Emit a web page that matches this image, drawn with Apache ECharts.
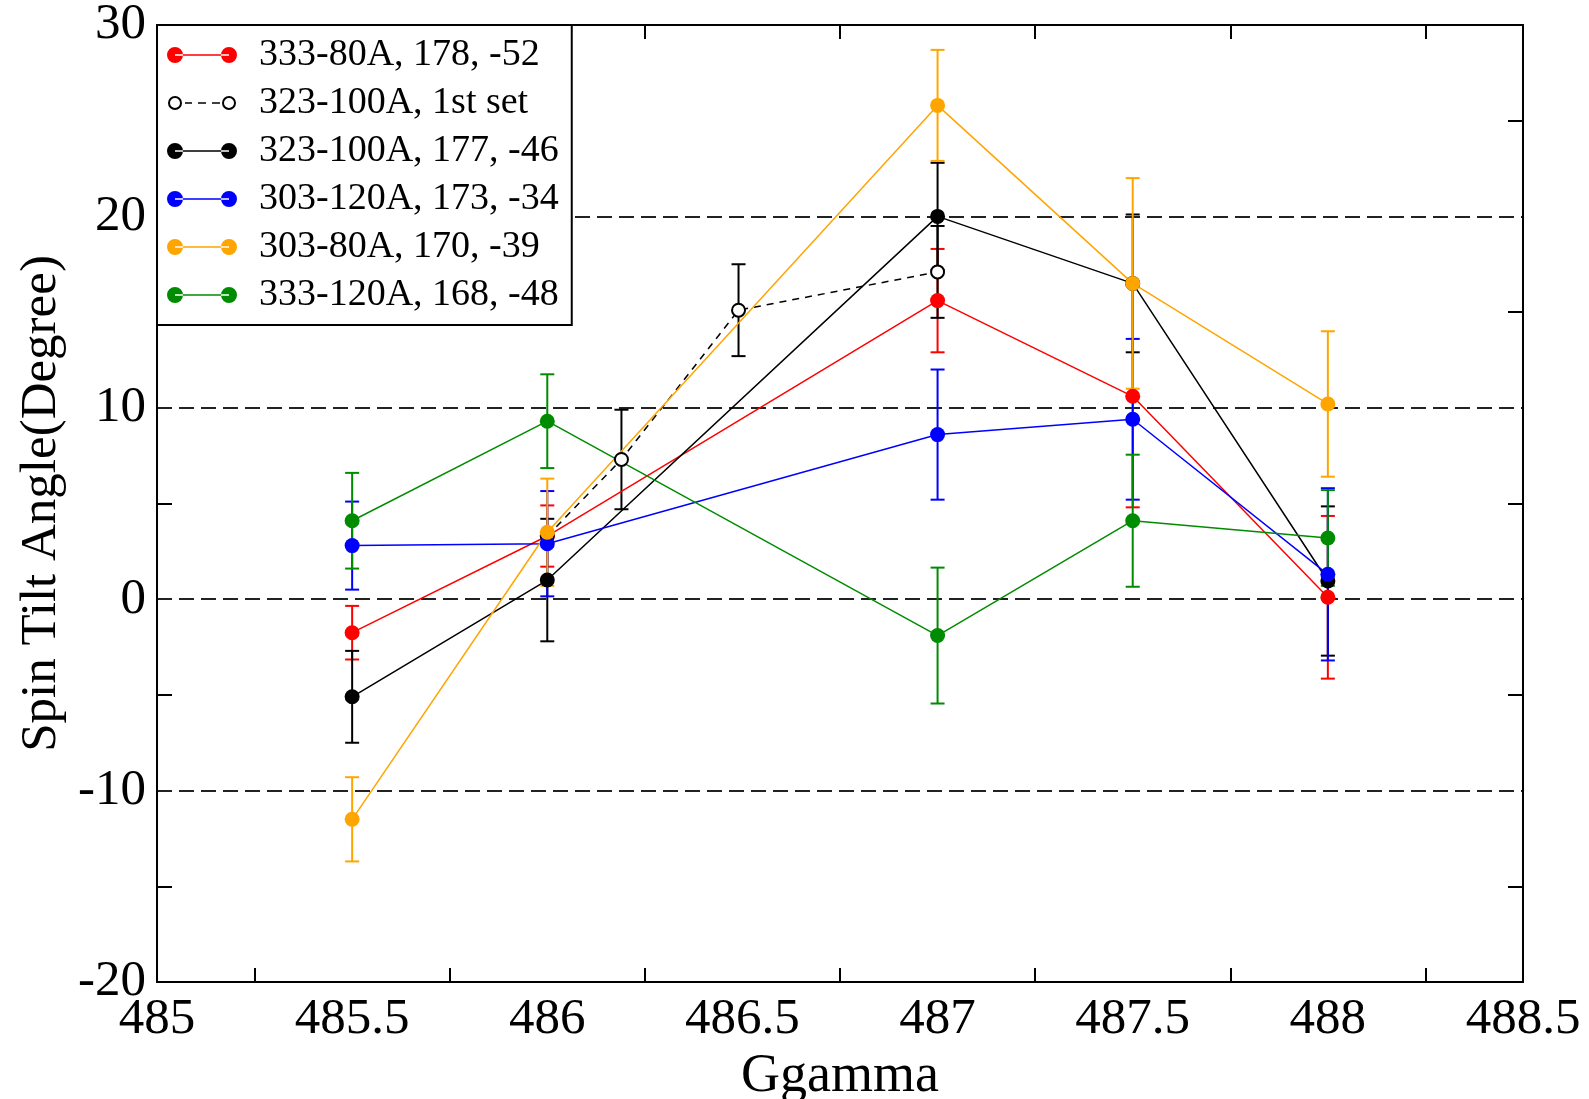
<!DOCTYPE html>
<html><head><meta charset="utf-8">
<script src="https://cdn.jsdelivr.net/npm/echarts@6/dist/echarts.min.js"></script>
<style>html,body{margin:0;padding:0;background:#fff;overflow:hidden}#c{width:1589px;height:1099px}</style>
</head><body><div id="c"></div>
<script>
// ---- axis ticks ----
const xTickLabels = [485, 485.5, 486, 486.5, 487, 487.5, 488, 488.5];
const xMinorTicks = [485.25, 485.75, 486.25, 486.75, 487.25, 487.75, 488.25];
const yTickLabels = [-20, -10, 0, 10, 20, 30];
const yMinorTicks = [-15, -5, 5, 15, 25];
const xTitle = 'Ggamma';
const yTitle = 'Spin Tilt Angle(Degree)';

// ---- series ----
const seriesNames = ['333-80A, 178, -52', '323-100A, 1st set', '323-100A, 177, -46', '303-120A, 173, -34', '303-80A, 170, -39', '333-120A, 168, -48'];

const redX = [485.5, 486, 487, 487.5, 488];
const redY = [-1.75, 3.3, 15.6, 10.6, 0.1];
const redErr = [1.4, 1.6, 2.7, 5.8, 4.25];

const openX = [486, 486.19, 486.49, 487];
const openY = [3.3, 7.3, 15.1, 17.1];
const openErr = [0, 2.6, 2.4, 2.4];

const blackX = [485.5, 486, 487, 487.5, 488];
const blackY = [-5.1, 1.0, 20.0, 16.5, 0.95];
const blackErr = [2.4, 3.2, 2.8, 3.6, 3.9];

const blueX = [485.5, 486, 487, 487.5, 488];
const blueY = [2.8, 2.9, 8.6, 9.4, 1.3];
const blueErr = [2.3, 2.75, 3.4, 4.2, 4.5];

const orangeX = [485.5, 486, 487, 487.5, 488];
const orangeY = [-11.5, 3.5, 25.8, 16.5, 10.2];
const orangeErr = [2.2, 2.8, 2.9, 5.5, 3.8];

const greenX = [485.5, 486, 487, 487.5, 488];
const greenY = [4.1, 9.3, -1.9, 4.1, 3.2];
const greenErr = [2.5, 2.45, 3.55, 3.45, 2.5];

const sets = [
  {name: seriesNames[0], x: redX, y: redY, e: redErr, color: '#ff0000', open: false},
  {name: seriesNames[1], x: openX, y: openY, e: openErr, color: '#000000', open: true},
  {name: seriesNames[2], x: blackX, y: blackY, e: blackErr, color: '#000000', open: false},
  {name: seriesNames[3], x: blueX, y: blueY, e: blueErr, color: '#0000ff', open: false},
  {name: seriesNames[4], x: orangeX, y: orangeY, e: orangeErr, color: '#ffa500', open: false},
  {name: seriesNames[5], x: greenX, y: greenY, e: greenErr, color: '#008c00', open: false}
];

const FONT = 'Liberation Serif';

function errRender(color) {
  return function (params, api) {
    const x = api.value(0), y = api.value(1), e = api.value(2);
    if (!e) return null;
    const top = api.coord([x, y + e]);
    const bot = api.coord([x, y - e]);
    const hw = 7;
    const st = {stroke: color, lineWidth: 2};
    return {
      type: 'group',
      children: [
        {type: 'line', shape: {x1: top[0], y1: top[1], x2: bot[0], y2: bot[1]}, style: st},
        {type: 'line', shape: {x1: top[0] - hw, y1: top[1], x2: top[0] + hw, y2: top[1]}, style: st},
        {type: 'line', shape: {x1: bot[0] - hw, y1: bot[1], x2: bot[0] + hw, y2: bot[1]}, style: st}
      ]
    };
  };
}

const series = [];
sets.forEach(function (s) {
  series.push({
    name: s.name + ' err',
    type: 'custom',
    renderItem: errRender(s.color),
    data: s.x.map(function (v, i) { return [v, s.y[i], s.e[i]]; }),
    encode: {x: 0, y: 1},
    silent: true,
    z: 3
  });
  series.push({
    name: s.name,
    type: 'line',
    data: s.x.map(function (v, i) { return [v, s.y[i]]; }),
    symbol: 'circle',
    symbolSize: s.open ? 13 : 15,
    showSymbol: true,
    itemStyle: s.open ? {color: '#ffffff', borderColor: '#000000', borderWidth: 2} : {color: s.color, borderWidth: 0},
    lineStyle: {color: s.color, width: 1.5, type: s.open ? [7, 6] : 'solid'},
    z: 3,
    silent: true
  });
});

const circ = function (cx, cy, r, sweep) {
  return 'M' + (cx - r) + ',' + cy + ' a' + r + ',' + r + ' 0 1,' + sweep + ' ' + (2 * r) + ',0 a' + r + ',' + r + ' 0 1,' + sweep + ' ' + (-2 * r) + ',0 Z ';
};
const solidIcon = 'path://' + circ(8, 8, 8, 0) + 'M8,7.25 L62,7.25 L62,8.75 L8,8.75 Z ' + circ(62, 8, 8, 0);
const openIcon = 'path://' + circ(8, 8, 7, 0) + circ(8, 8, 5, 1) +
  'M18,7.25 L25,7.25 L25,8.75 L18,8.75 Z M31,7.25 L39,7.25 L39,8.75 L31,8.75 Z M45,7.25 L53,7.25 L53,8.75 L45,8.75 Z ' +
  circ(62, 8, 7, 0) + circ(62, 8, 5, 1) + 'M0,8 L0.01,8 L0.01,8.01 Z M70,8 L69.99,8 L69.99,8.01 Z M35,0 L35.01,0 L35.01,0.01 Z M35,16 L35.01,16 L35.01,15.99 Z';

const legendData = sets.map(function (s) {
  return s.open
    ? {name: s.name, icon: openIcon, itemStyle: {color: '#000000', borderWidth: 0}}
    : {name: s.name, icon: solidIcon, itemStyle: {color: s.color, borderWidth: 0}};
});

const axisLine = {show: true, onZero: false, lineStyle: {color: '#000', width: 2}};
const tickStyle = {color: '#000', width: 2};

const option = {
  animation: false,
  backgroundColor: '#ffffff',
  grid: {left: 157, right: 66, top: 25, bottom: 117, containLabel: false, outerBoundsMode: 'none'},
  legend: {
    data: legendData,
    orient: 'vertical',
    left: 157, top: 25,
    padding: [10, 13, 10, 10],
    itemWidth: 70, itemHeight: 16,
    itemGap: 8,
    backgroundColor: '#ffffff',
    borderColor: '#000000', borderWidth: 2, borderRadius: 0,
    selectedMode: false,
    z: 10,
    textStyle: {fontFamily: FONT, fontSize: 38, color: '#000', lineHeight: 40, padding: [0, 0, 0, 17]}
  },
  xAxis: [{
    type: 'value', min: 485, max: 488.5, interval: 0.5, position: 'bottom',
    name: xTitle, nameLocation: 'middle', nameGap: 57,
    nameTextStyle: {fontFamily: FONT, fontSize: 54, color: '#000'},
    axisLine: axisLine,
    axisTick: {show: true, inside: true, length: 14, lineStyle: tickStyle, customValues: xMinorTicks},
    axisLabel: {show: true, fontFamily: FONT, fontSize: 51, color: '#000', margin: 12, customValues: xTickLabels,
      showMinLabel: true, showMaxLabel: true, hideOverlap: false},
    splitLine: {show: false}, minorTick: {show: false}
  }, {
    type: 'value', min: 485, max: 488.5, interval: 0.5, position: 'top',
    axisLine: axisLine,
    axisTick: {show: true, inside: true, length: 14, lineStyle: tickStyle, customValues: xMinorTicks},
    axisLabel: {show: false},
    splitLine: {show: false}
  }],
  yAxis: [{
    type: 'value', min: -20, max: 30, interval: 10, position: 'left',
    name: yTitle, nameLocation: 'middle', nameGap: 88, nameRotate: 90,
    nameTextStyle: {fontFamily: FONT, fontSize: 51, color: '#000'},
    axisLine: axisLine,
    axisTick: {show: true, inside: true, length: 15, lineStyle: tickStyle, customValues: yMinorTicks},
    axisLabel: {show: true, fontFamily: FONT, fontSize: 51, color: '#000', margin: 11, customValues: yTickLabels,
      showMinLabel: true, showMaxLabel: true, hideOverlap: false},
    splitLine: {show: false}
  }, {
    type: 'value', min: -20, max: 30, interval: 10, position: 'right',
    axisLine: axisLine,
    axisTick: {show: true, inside: true, length: 15, lineStyle: tickStyle, customValues: yMinorTicks},
    axisLabel: {show: false},
    splitLine: {show: false}
  }, {
    type: 'value', min: -20, max: 30, interval: 10, position: 'left',
    axisLine: {show: false}, axisTick: {show: false}, axisLabel: {show: false},
    splitLine: {show: true, lineStyle: {color: '#222', width: 2, type: [15, 7]}}
  }],
  series: series
};

const chart = echarts.init(document.getElementById('c'), null, {renderer: 'canvas'});
chart.setOption(option);
</script>
</body></html>
